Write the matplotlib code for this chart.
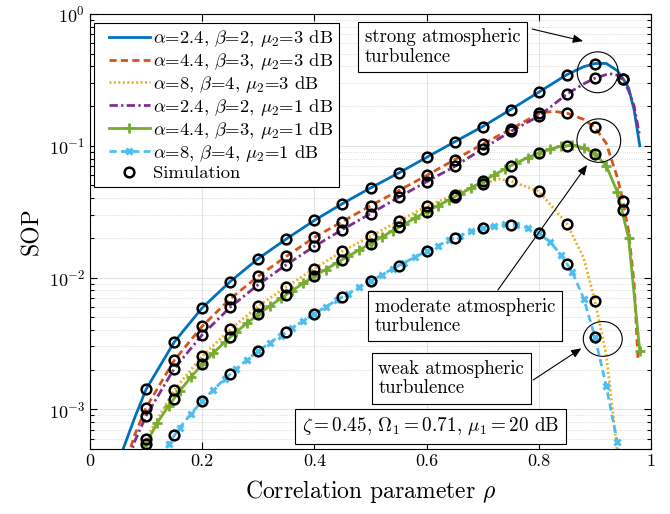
# SOP versus correlation parameter rho, log scale, with simulation circles
import numpy as np
import matplotlib.pyplot as plt
from matplotlib.patches import Ellipse
from matplotlib.lines import Line2D
from matplotlib.legend_handler import HandlerLine2D
from matplotlib.ticker import NullLocator

plt.rcParams['font.family'] = 'cmr10'
plt.rcParams['mathtext.fontset'] = 'cm'
plt.rcParams['axes.formatter.use_mathtext'] = True

# values are log10(SOP)
rho_a = [0.05, 0.06, 0.08, 0.10, 0.15, 0.20, 0.25, 0.30, 0.35, 0.40, 0.45, 0.50, 0.55, 0.60,
         0.65, 0.70, 0.75, 0.80, 0.85, 0.88, 0.90, 0.92, 0.94, 0.95, 0.96, 0.97, 0.98]
sop_a = [-3.42, -3.29, -3.06, -2.848, -2.49, -2.23, -2.03, -1.856, -1.707, -1.566, -1.439, -1.32,
         -1.207, -1.088, -0.97, -0.854, -0.725, -0.593, -0.46, -0.40, -0.376, -0.375, -0.43,
         -0.49, -0.56, -0.73, -1.0]

rho_b = [0.06, 0.08, 0.10, 0.15, 0.20, 0.25, 0.30, 0.35, 0.40, 0.45, 0.50, 0.55, 0.60, 0.65,
         0.70, 0.75, 0.80, 0.825, 0.85, 0.88, 0.90, 0.92, 0.94, 0.95, 0.96, 0.97, 0.977]
sop_b = [-3.45, -3.19, -2.987, -2.629, -2.369, -2.161, -1.99, -1.839, -1.695, -1.575, -1.455,
         -1.341, -1.225, -1.106, -0.987, -0.874, -0.755, -0.738, -0.752, -0.80, -0.861, -0.98,
         -1.24, -1.42, -1.65, -2.05, -2.634]

rho_c = [0.08, 0.10, 0.15, 0.20, 0.25, 0.30, 0.35, 0.40, 0.45, 0.50, 0.55, 0.60, 0.65, 0.70,
         0.73, 0.75, 0.80, 0.85, 0.88, 0.90, 0.92, 0.94, 0.95]
sop_c = [-3.45, -3.222, -2.856, -2.596, -2.394, -2.217, -2.071, -1.932, -1.80, -1.687, -1.573,
         -1.46, -1.371, -1.29, -1.253, -1.268, -1.346, -1.591, -1.85, -2.179, -2.58, -3.32, -3.7]

rho_d = [0.06, 0.08, 0.10, 0.15, 0.20, 0.25, 0.30, 0.35, 0.40, 0.45, 0.50, 0.55, 0.60, 0.65,
         0.70, 0.75, 0.80, 0.85, 0.88, 0.90, 0.92, 0.93, 0.94, 0.95, 0.96, 0.97, 0.98]
sop_d = [-3.5, -3.24, -3.05, -2.692, -2.434, -2.225, -2.053, -1.902, -1.763, -1.636, -1.515,
         -1.391, -1.273, -1.157, -1.023, -0.891, -0.775, -0.608, -0.53, -0.487, -0.46, -0.455,
         -0.465, -0.50, -0.58, -0.70, -0.93]

rho_e = [0.09, 0.10, 0.12, 0.14, 0.16, 0.18, 0.20, 0.22, 0.24, 0.26, 0.28, 0.30, 0.32, 0.34,
         0.36, 0.38, 0.40, 0.42, 0.44, 0.46, 0.48, 0.50, 0.52, 0.54, 0.56, 0.58, 0.60, 0.62,
         0.64, 0.66, 0.68, 0.70, 0.72, 0.74, 0.76, 0.78, 0.80, 0.82, 0.84, 0.86, 0.88, 0.90,
         0.92, 0.94, 0.96, 0.98]
sop_e = [-3.45, -3.26, -3.10, -2.975, -2.86, -2.755, -2.659, -2.572, -2.49, -2.415, -2.346,
         -2.28, -2.218, -2.158, -2.10, -2.044, -1.99, -1.939, -1.888, -1.839, -1.79, -1.742,
         -1.693, -1.644, -1.595, -1.547, -1.50, -1.455, -1.411, -1.365, -1.318, -1.27, -1.222,
         -1.175, -1.13, -1.09, -1.056, -1.027, -1.003, -0.997, -1.015, -1.06, -1.15, -1.35,
         -1.70, -2.56]

rho_f = [0.12, 0.14, 0.16, 0.18, 0.20, 0.22, 0.24, 0.26, 0.28, 0.30, 0.32, 0.34, 0.36, 0.38,
         0.40, 0.42, 0.44, 0.46, 0.48, 0.50, 0.52, 0.54, 0.56, 0.58, 0.60, 0.62, 0.64, 0.66,
         0.68, 0.70, 0.72, 0.74, 0.76, 0.78, 0.80, 0.82, 0.84, 0.86, 0.88, 0.90, 0.92, 0.94,
         0.96]
sop_f = [-3.45, -3.26, -3.14, -3.033, -2.937, -2.851, -2.77, -2.694, -2.624, -2.558, -2.496,
         -2.44, -2.384, -2.329, -2.275, -2.223, -2.171, -2.122, -2.075, -2.028, -1.98, -1.932,
         -1.887, -1.843, -1.80, -1.758, -1.718, -1.682, -1.65, -1.624, -1.606, -1.597, -1.60,
         -1.622, -1.664, -1.73, -1.83, -1.96, -2.16, -2.449, -2.82, -3.25, -3.9]

# simulation points
rho_sim = [0.10, 0.15, 0.20, 0.25, 0.30, 0.35, 0.40, 0.45, 0.50, 0.55, 0.60, 0.65, 0.70,
           0.75, 0.80, 0.85, 0.90, 0.95]
sim_a = [-2.848, -2.49, -2.23, -2.03, -1.856, -1.707, -1.566, -1.439, -1.32, -1.207, -1.088,
         -0.97, -0.854, -0.725, -0.593, -0.46, -0.376, -0.49]
sim_b = [-2.987, -2.629, -2.369, -2.161, -1.99, -1.839, -1.695, -1.575, -1.455, -1.341, -1.225,
         -1.106, -0.987, -0.874, -0.755, -0.752, -0.861, -1.42]
sim_c = [-3.222, -2.856, -2.596, -2.394, -2.217, -2.071, -1.932, -1.80, -1.687, -1.573, -1.46,
         -1.371, -1.29, -1.268, -1.346, -1.591, -2.179, np.nan]
sim_d = [-3.05, -2.692, -2.434, -2.225, -2.053, -1.902, -1.763, -1.636, -1.515, -1.391, -1.273,
         -1.157, -1.023, -0.891, -0.775, -0.608, -0.487, -0.495]
sim_e = [-3.26, -2.919, -2.659, -2.452, -2.28, -2.129, -1.99, -1.864, -1.742, -1.619, -1.50,
         -1.389, -1.27, -1.152, -1.056, -0.998, -1.06, -1.49]
sim_f = [np.nan, -3.197, -2.937, -2.73, -2.558, -2.412, -2.275, -2.146, -2.028, -1.909, -1.80,
         -1.699, -1.624, -1.598, -1.664, -1.896, -2.449, np.nan]

labels = [r'$\alpha$=2.4, $\beta$=2, $\mu_2$=3 dB',
          r'$\alpha$=4.4, $\beta$=3, $\mu_2$=3 dB',
          r'$\alpha$=8, $\beta$=4, $\mu_2$=3 dB',
          r'$\alpha$=2.4, $\beta$=2, $\mu_2$=1 dB',
          r'$\alpha$=4.4, $\beta$=3, $\mu_2$=1 dB',
          r'$\alpha$=8, $\beta$=4, $\mu_2$=1 dB']

fig = plt.figure(figsize=(6.7, 5.14), dpi=100)
ax = fig.add_axes([90/670, 1-449/514, 561/670, 435/514])

lw = 2
ax.plot(rho_a, 10**np.array(sop_a), color='#0072BD', lw=lw, label=labels[0])
ax.plot(rho_b, 10**np.array(sop_b), color='#D95319', lw=lw, dashes=(2.6, 1.5), label=labels[1])
ax.plot(rho_c, 10**np.array(sop_c), color='#EDB120', lw=lw, dashes=(0.7, 0.9), label=labels[2])
ax.plot(rho_d, 10**np.array(sop_d), color='#7E2F8E', lw=lw, dashes=(3, 1.2, 0.8, 1.2), label=labels[3])
ax.plot(rho_e, 10**np.array(sop_e), color='#77AC30', lw=lw, marker='+', ms=7, mew=2, label=labels[4])
ax.plot(rho_f, 10**np.array(sop_f), color='#4DBEEE', lw=lw, dashes=(2.6, 1.5), marker='x', ms=5,
        mew=2.2, label=labels[5])

for i, s in enumerate([sim_a, sim_b, sim_c, sim_d, sim_e, sim_f]):
    ax.plot(rho_sim, 10**np.array(s), 'o', mfc='none', mec='k', ms=7, mew=1.8,
            label='Simulation' if i == 0 else None, zorder=5)

ax.set_yscale('log')
ax.set_xlim(0, 1)
ax.set_ylim(5e-4, 1)
ax.set_xticks([0, 0.2, 0.4, 0.6, 0.8, 1])
ax.set_xticklabels(['0', '0.2', '0.4', '0.6', '0.8', '1'])
ax.xaxis.set_minor_locator(NullLocator())
ax.tick_params(which='both', direction='in', top=True, right=True, labelsize=13, width=0.8)
ax.tick_params(which='major', length=5)
ax.tick_params(which='minor', length=3)
ax.grid(True, which='major', color='#e3e3e3', lw=0.8)
ax.yaxis.grid(True, which='minor', color='#cfcfcf', lw=0.6, ls=':')
ax.set_axisbelow(True)
for sp in ax.spines.values():
    sp.set_linewidth(0.8)

ax.set_xlabel(r'Correlation parameter $\rho$', fontsize=17, labelpad=6)
ax.set_ylabel('SOP', fontsize=17)

leg = ax.legend(loc='upper left', bbox_to_anchor=(0.007, 0.98), borderaxespad=0, fontsize=13.4,
                fancybox=False, edgecolor='k', framealpha=1, handlelength=2.7,
                handletextpad=0.2, labelspacing=0.1, borderpad=0.3, numpoints=1,
                handler_map={Line2D: HandlerLine2D(xpad=0.5)})
leg.get_frame().set_linewidth(0.8)

box = dict(boxstyle='square,pad=0.35', fc='white', ec='k', lw=0.8)
ax.text(0.6283, 0.9241, 'strong atmospheric\nturbulence', transform=ax.transAxes, ha='center',
        va='center', multialignment='left', fontsize=13.5, bbox=box, linespacing=1.1, zorder=6)
ax.text(0.6684, 0.3053, 'moderate atmospheric\nturbulence', transform=ax.transAxes, ha='center',
        va='center', multialignment='left', fontsize=13.5, bbox=box, linespacing=1.1, zorder=6)
ax.text(0.6441, 0.1625, 'weak atmospheric\nturbulence', transform=ax.transAxes, ha='center',
        va='center', multialignment='left', fontsize=13.5, bbox=box, linespacing=1.1, zorder=6)
ax.text(0.6067, 0.0522, r'$\zeta = 0.45$, $\Omega_1 = 0.71$, $\mu_1 = 20$ dB',
        transform=ax.transAxes, ha='center', va='center', fontsize=13.8, bbox=box, zorder=6)

arrow = dict(arrowstyle='-|>,head_length=0.6,head_width=0.25', color='k', lw=0.8,
             shrinkA=0, shrinkB=0)
ax.annotate('', xy=(0.879, 0.9377), xytext=(0.788, 0.9655), xycoords='axes fraction',
            arrowprops=arrow, zorder=6)
ax.annotate('', xy=(0.886, 0.653), xytext=(0.727, 0.3655), xycoords='axes fraction',
            arrowprops=arrow, zorder=6)
ax.annotate('', xy=(0.876, 0.2315), xytext=(0.790, 0.1586), xycoords='axes fraction',
            arrowprops=arrow, zorder=6)

for cx, cy, w, h in [(0.905, 0.866, 0.073, 0.094), (0.907, 0.709, 0.078, 0.100),
                     (0.914, 0.253, 0.0695, 0.080)]:
    ax.add_patch(Ellipse((cx, cy), w, h, transform=ax.transAxes, fill=False, ec='k', lw=0.8,
                         zorder=6))

fig.savefig('out.png', dpi=100)
